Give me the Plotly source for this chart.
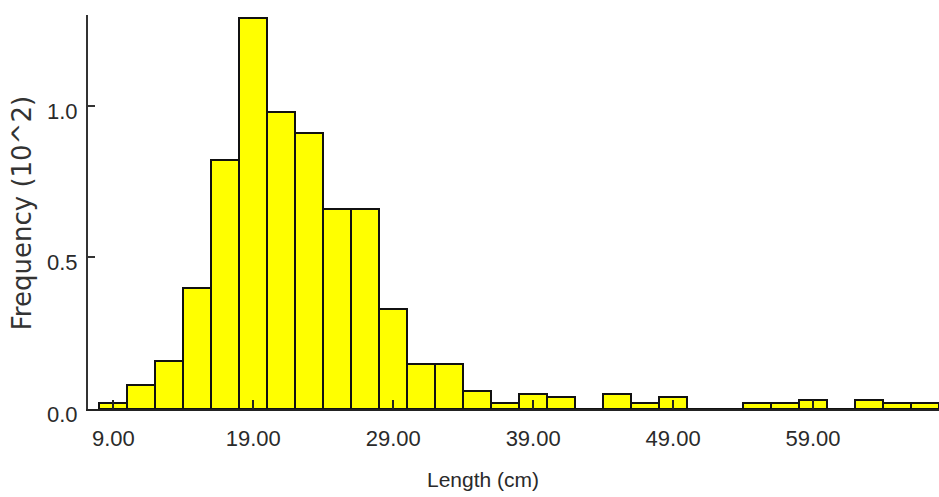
import plotly.graph_objects as go

# Histogram of fish length, bins 2 cm wide, centred on odd lengths
bin_centers = [9, 11, 13, 15, 17, 19, 21, 23, 25, 27, 29, 31, 33, 35, 37,
               39, 41, 43, 45, 47, 49, 51, 53, 55, 57, 59, 61, 63, 65, 67]
frequency = [0.02, 0.08, 0.16, 0.40, 0.82, 1.29, 0.98, 0.91, 0.66, 0.66,
             0.33, 0.15, 0.15, 0.06, 0.02, 0.05, 0.04, 0.00, 0.05, 0.02,
             0.04, 0.00, 0.00, 0.02, 0.02, 0.03, 0.00, 0.03, 0.02, 0.02]
x_tickvals = [9, 19, 29, 39, 49, 59]
x_ticktext = ["9.00", "19.00", "29.00", "39.00", "49.00", "59.00"]
y_tickvals = [0, 0.5, 1.0]
y_ticktext = ["0.0", "0.5", "1.0"]

TICKFONT = "Liberation Sans, Arial, sans-serif"

fig = go.Figure(
    go.Bar(
        x=bin_centers,
        y=frequency,
        width=2,
        marker=dict(color="#ffff00", line=dict(color="#111111", width=2)),
        hoverinfo="x+y",
    )
)

fig.update_layout(
    width=939,
    height=497,
    margin=dict(l=88, r=0, t=15, b=88),
    paper_bgcolor="white",
    plot_bgcolor="white",
    showlegend=False,
    bargap=0,
    xaxis=dict(
        range=[7.19, 68.0],
        tickmode="array",
        tickvals=x_tickvals,
        ticktext=x_ticktext,
        showgrid=False,
        zeroline=False,
        showline=True,
        linecolor="#222222",
        linewidth=2,
        ticks="inside",
        ticklen=9,
        tickwidth=2,
        tickcolor="#222222",
        tickfont=dict(family=TICKFONT, size=22, color="#2a2a2a"),
        ticklabelstandoff=9,
    ),
    yaxis=dict(
        range=[0, 1.3],
        tickmode="array",
        tickvals=y_tickvals,
        ticktext=y_ticktext,
        showgrid=False,
        zeroline=False,
        showline=True,
        linecolor="#333333",
        linewidth=2,
        ticks="inside",
        ticklen=7,
        tickwidth=2,
        tickcolor="#333333",
        tickfont=dict(family=TICKFONT, size=22, color="#2a2a2a"),
        ticklabelstandoff=4,
        ticklabelshift=5,
    ),
    annotations=[
        dict(
            text="Length (cm)",
            xref="paper", yref="paper",
            x=0.464, y=-0.18,
            xanchor="center", yanchor="middle",
            showarrow=False,
            font=dict(family=TICKFONT, size=21, color="#2a2a2a"),
        ),
        dict(
            text="Frequency (10^2)",
            xref="paper", yref="paper",
            x=-0.078, y=0.496,
            xanchor="center", yanchor="middle",
            textangle=-90,
            showarrow=False,
            font=dict(family="DejaVu Sans, sans-serif", size=26, color="#333333"),
        ),
    ],
)

# remove the default page margin so the figure fills the 939x497 window exactly
fig.write_html(
    "out.html",
    config={"displayModeBar": False},
    post_script=(
        "document.body.style.margin='0';"
        "document.body.style.overflow='hidden';"
        "document.documentElement.style.overflow='hidden';"
    ),
)
